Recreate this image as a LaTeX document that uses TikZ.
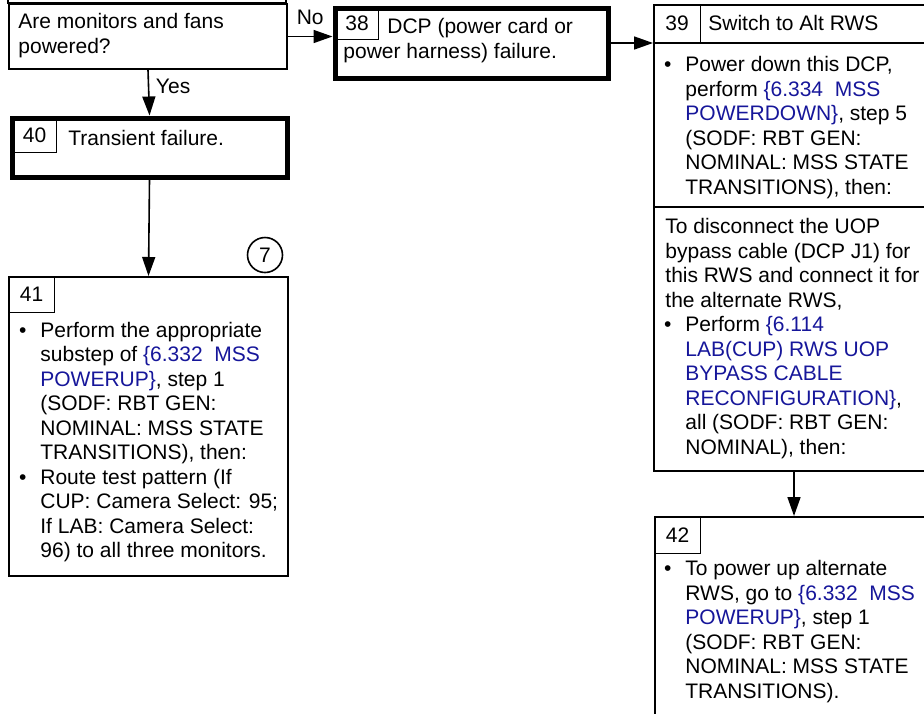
\documentclass[tikz,border=0pt]{standalone}
\usepackage{fontspec}
\setmainfont{Liberation Sans}
\usetikzlibrary{arrows.meta,positioning}
\definecolor{LinkBlue}{HTML}{16169A}
\tikzset{
  box/.style={draw,line width=1pt,inner sep=0pt,anchor=north west},
  heavybox/.style={draw,line width=2.5pt,inner sep=0pt,anchor=north west},
  numcell/.style={draw,line width=0.6pt,inner sep=0pt,anchor=north west,
                  font=\fontsize{10.5}{12.25}\selectfont},
  txt/.style={inner sep=0pt,anchor=base west,align=left,
              font=\fontsize{10.5}{12.25}\selectfont},
  flow/.style={-{Triangle[length=9.5pt,width=6.5pt]},line width=0.8pt},
}
\newcommand{\lnk}[1]{\textcolor{LinkBlue}{#1}}
\newcommand{\bul}{\llap{\textbullet\hspace{7pt}}}

\begin{document}
\begin{tikzpicture}[x=0.5pt,y=-0.5pt]
  \useasboundingbox (0,0) rectangle (924,713);
  \clip (0,0) rectangle (924,713);

  % question box (upper part cut off)
  % (txt nodes sit on the baseline of their last line)
  \draw[line width=1pt] (8,-20) rectangle (286,3);
  \node[box,minimum width=139pt,minimum height=32.5pt] (q) at (8,3) {};
  \node[txt] (qtxt) at (18,53) {Are monitors and fans\\powered?};

  % 38
  \node[heavybox,minimum width=136.5pt,minimum height=35pt] (b38) at (332.5,5.5) {};
  \node[numcell,minimum width=21.5pt,minimum height=16.5pt] (n38) at (335,6) {38};
  \node[txt] (t38) at (343,58) {\hspace*{22pt}DCP (power card or\\power harness) failure.};

  % 40
  \node[heavybox,minimum width=137.5pt,minimum height=29.5pt] (b40) at (9.5,115.5) {};
  \node[numcell,minimum width=22pt,minimum height=17pt] (n40) at (12,118) {40};
  \node[txt] (t40) at (68,145) {Transient failure.};

  % 41
  \node[box,minimum width=139.5pt,minimum height=149.5pt] (b41) at (8,276) {};
  \node[numcell,minimum width=23pt,minimum height=18pt] (n41) at (8,276) {41};
  \node[circle,draw,line width=0.8pt,minimum size=17.5pt,inner sep=0pt,
        font=\fontsize{10.5}{12.25}\selectfont] (c7) at (265,255) {7};
  \node[txt] (t41) at (40,557.5) {\bul Perform the appropriate\\
    substep of \lnk{\{6.332\ \ MSS}\\
    \lnk{POWERUP\}}, step 1\\
    (SODF: RBT GEN:\\
    NOMINAL: MSS STATE\\
    TRANSITIONS), then:\\
    \bul Route test pattern (If\\
    CUP: Camera Select: 95;\\
    If LAB: Camera Select:\\
    96) to all three monitors.};

  % 39
  \node[box,minimum width=140pt,minimum height=233pt] (b39) at (653,4) {};
  \node[numcell,minimum width=23.5pt,minimum height=19pt] (n39) at (653,4) {39};
  \draw[line width=0.8pt] (n39.south west) -- (n39.south -| b39.east);
  \draw[line width=0.8pt] (653,207) -- (933,207);
  \node[txt] (t39) at (708,30) {Switch to Alt RWS};
  \node[txt] (t39a) at (685,194) {\bul Power down this DCP,\\
    perform \lnk{\{6.334\ \ MSS}\\
    \lnk{POWERDOWN\}}, step 5\\
    (SODF: RBT GEN:\\
    NOMINAL: MSS STATE\\
    TRANSITIONS), then:};
  \node[txt] (t39b) at (665,307) {To disconnect the UOP\\
    bypass cable (DCP J1) for\\
    this RWS and connect it for\\
    the alternate RWS,};
  \node[txt] (t39c) at (685,454) {\bul Perform \lnk{\{6.114}\\
    \lnk{LAB(CUP) RWS UOP}\\
    \lnk{BYPASS CABLE}\\
    \lnk{RECONFIGURATION\}},\\
    all (SODF: RBT GEN:\\
    NOMINAL), then:};

  % 42
  \node[box,minimum width=139pt,minimum height=122pt] (b42) at (654,516) {};
  \node[numcell,minimum width=23pt,minimum height=18.5pt] (n42) at (654,516) {42};
  \node[txt] (t42) at (685,698) {\bul To power up alternate\\
    RWS, go to \lnk{\{6.332\ \ MSS}\\
    \lnk{POWERUP\}}, step 1\\
    (SODF: RBT GEN:\\
    NOMINAL: MSS STATE\\
    TRANSITIONS).};

  % connectors
  \draw[flow] (q.east) -- (q.east -| b38.west)
    node[midway,above=2pt,font=\fontsize{10.5}{12.25}\selectfont] {No};
  \draw[flow] (b38.east) -- (b38.east -| b39.west);
  \draw[flow] (q.south) -- (b40.north)
    node[pos=0.35,right,font=\fontsize{10.5}{12.25}\selectfont] {Yes};
  \draw[flow] (b40.south) -- (b41.north);
  \draw[flow] (b39.south) -- (b42.north);

\end{tikzpicture}
\end{document}
